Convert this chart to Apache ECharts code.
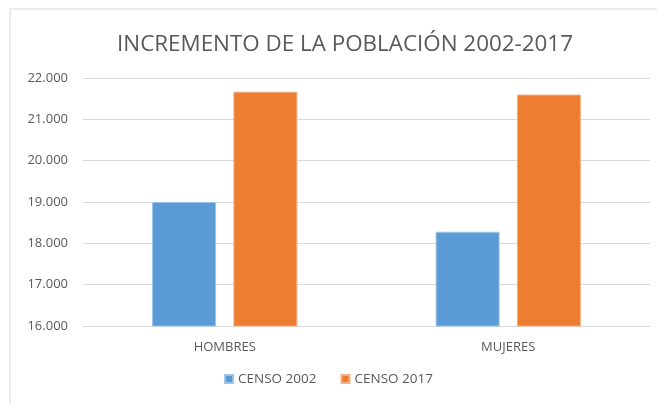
<!DOCTYPE html>
<html>
<head>
<meta charset="utf-8">
<script src="https://cdn.jsdelivr.net/npm/echarts@6/dist/echarts.min.js"></script>
<style>
  html, body { margin: 0; padding: 0; background: #fff; }
  #chart { width: 657px; height: 404px; }
</style>
</head>
<body>
<div id="chart"></div>
<script>
const categories = ['HOMBRES', 'MUJERES'];
const censo2002 = [19000, 18280];
const censo2017 = [21670, 21600];
const seriesNames = ['CENSO 2002', 'CENSO 2017'];

const fmt = v => String(v).replace(/\B(?=(\d{3})+(?!\d))/g, '.');
const font = '"Open Sans", sans-serif';

const chart = echarts.init(document.getElementById('chart'), null, { renderer: 'canvas' });
chart.setOption({
  animation: false,
  textStyle: { fontFamily: font },
  graphic: [{
    type: 'rect',
    shape: { x: 10, y: 9, width: 700, height: 420 },
    style: { fill: 'none', stroke: '#d9d9d9', lineWidth: 1 },
    silent: true
  }],
  title: {
    text: 'INCREMENTO DE LA POBLACIÓN 2002-2017',
    left: 340,
    textAlign: 'center',
    top: 29,
    textStyle: { fontFamily: font, fontSize: 22.4, fontWeight: 'normal', color: '#595959' }
  },
  legend: {
    bottom: 13,
    left: 'center',
    itemWidth: 8,
    itemHeight: 8,
    itemGap: 24,
    icon: 'rect',
    textStyle: { fontFamily: font, fontSize: 13.5, color: '#595959' },
    data: seriesNames
  },
  grid: { left: 83, right: 7, top: 78, bottom: 78, containLabel: false },
  xAxis: {
    type: 'category',
    data: categories,
    axisLine: { lineStyle: { color: '#d9d9d9' } },
    axisTick: { show: false },
    axisLabel: { color: '#595959', fontSize: 13, margin: 15, fontFamily: font }
  },
  yAxis: {
    type: 'value',
    min: 16000,
    max: 22000,
    interval: 1000,
    axisLine: { show: false },
    axisTick: { show: false },
    splitLine: { lineStyle: { color: '#d9d9d9' } },
    axisLabel: { color: '#595959', fontSize: 13, margin: 15, fontFamily: font, formatter: fmt }
  },
  series: [
    {
      name: seriesNames[0],
      type: 'bar',
      data: censo2002,
      barWidth: 64,
      barGap: '27%',
      itemStyle: { color: '#5b9bd5', borderColor: '#9dc3e6', borderWidth: 1 }
    },
    {
      name: seriesNames[1],
      type: 'bar',
      data: censo2017,
      barWidth: 64,
      barGap: '27%',
      itemStyle: { color: '#ed7d31', borderColor: '#f4b183', borderWidth: 1 }
    }
  ]
});
</script>
</body>
</html>
